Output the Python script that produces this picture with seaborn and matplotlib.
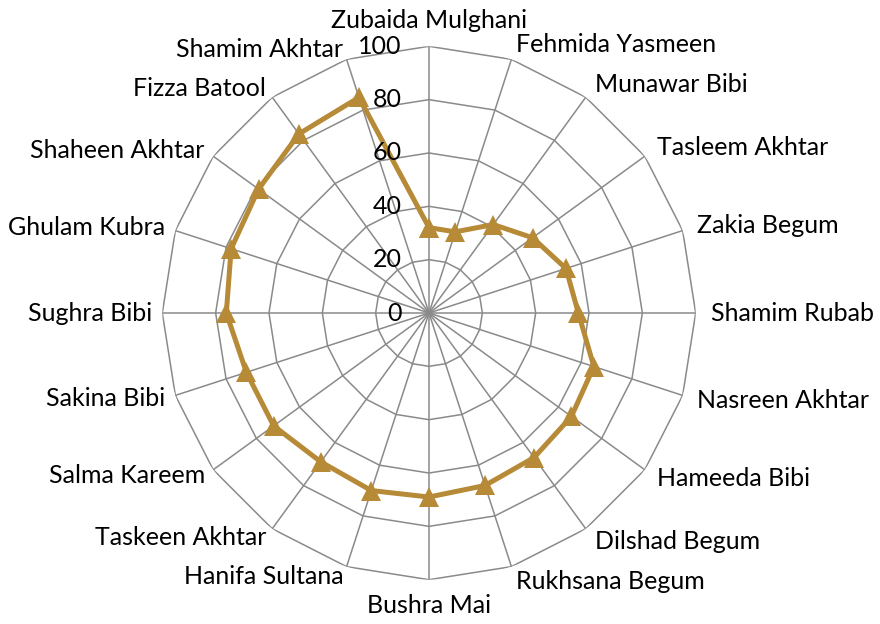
import numpy as np
import pandas as pd
import matplotlib
matplotlib.use("Agg")
import matplotlib.pyplot as plt
import seaborn as sns

# Respondents, clockwise from the top
names = [
    "Zubaida Mulghani", "Fehmida Yasmeen", "Munawar Bibi", "Tasleem Akhtar",
    "Zakia Begum", "Shamim Rubab", "Nasreen Akhtar", "Hameeda Bibi",
    "Dilshad Begum", "Rukhsana Begum", "Bushra Mai", "Hanifa Sultana",
    "Taskeen Akhtar", "Salma Kareem", "Sakina Bibi", "Sughra Bibi",
    "Ghulam Kubra", "Shaheen Akhtar", "Fizza Batool", "Shamim Akhtar",
]
scores = [32, 32, 41, 48, 54, 56, 65, 66, 67, 68,
          69, 70, 69, 72, 72, 76, 78, 79, 83, 85]
ring_levels = [0, 20, 40, 60, 80, 100]

LINE = "#B68A37"
GRID = "#8A8A8A"

sns.set_theme(style="white")
plt.rcParams["font.family"] = ["Lato", "DejaVu Sans"]

fig = plt.figure(figsize=(8.8, 6.24), dpi=100)
cx, cy = 429 / 880, 1 - 313 / 624
rw, rh = 266.7 / 880, 266.7 / 624
ax = fig.add_axes([cx - rw, cy - rh, 2 * rw, 2 * rh], projection="polar")
ax.set_theta_zero_location("N")
ax.set_theta_direction(-1)
ax.grid(False)
ax.spines["polar"].set_visible(False)
ax.patch.set_alpha(0)

n = len(names)
theta = np.arange(n) * 2 * np.pi / n
closed_theta = np.append(theta, 2 * np.pi)

# Polygonal web: rings and spokes
for lvl in ring_levels[1:]:
    ax.plot(closed_theta, np.full(n + 1, lvl), color=GRID, lw=1.1, zorder=1)
for t in theta:
    ax.plot([t, t], [0, ring_levels[-1]], color=GRID, lw=1.1, zorder=1)

# Score series
df = pd.DataFrame({"angle": closed_theta, "score": scores + [scores[0]]})
sns.lineplot(data=df, x="angle", y="score", sort=False, estimator=None, ax=ax,
             color=LINE, lw=3.6, marker="^", markersize=15,
             markeredgewidth=0, zorder=3)

ax.set_ylim(0, ring_levels[-1])
ax.set_xticks([])
ax.set_yticks([])
ax.set_xlabel("")
ax.set_ylabel("")

# Radial value labels beside the top spoke
for lvl in ring_levels:
    ax.annotate(str(lvl), xy=(0, lvl), xytext=(-19.5, 0), textcoords="offset points",
                ha="right", va="center", fontsize=18, color="black",
                annotation_clip=False, zorder=4)

# Category labels around the web
for t, name in zip(theta, names):
    s, c = np.sin(t), np.cos(t)
    if abs(s) < 0.05:
        ha = "center"
        va = "bottom" if c > 0 else "top"
        d = 10
    else:
        ha = "left" if s > 0 else "right"
        va = "center"
        d = 11 if s > 0 else 7.5
    ax.annotate(name, xy=(t, ring_levels[-1]), xytext=(d * s, d * c),
                textcoords="offset points", ha=ha, va=va, fontsize=18,
                color="black", annotation_clip=False)

fig.savefig("out.png", dpi=100, facecolor="white")
